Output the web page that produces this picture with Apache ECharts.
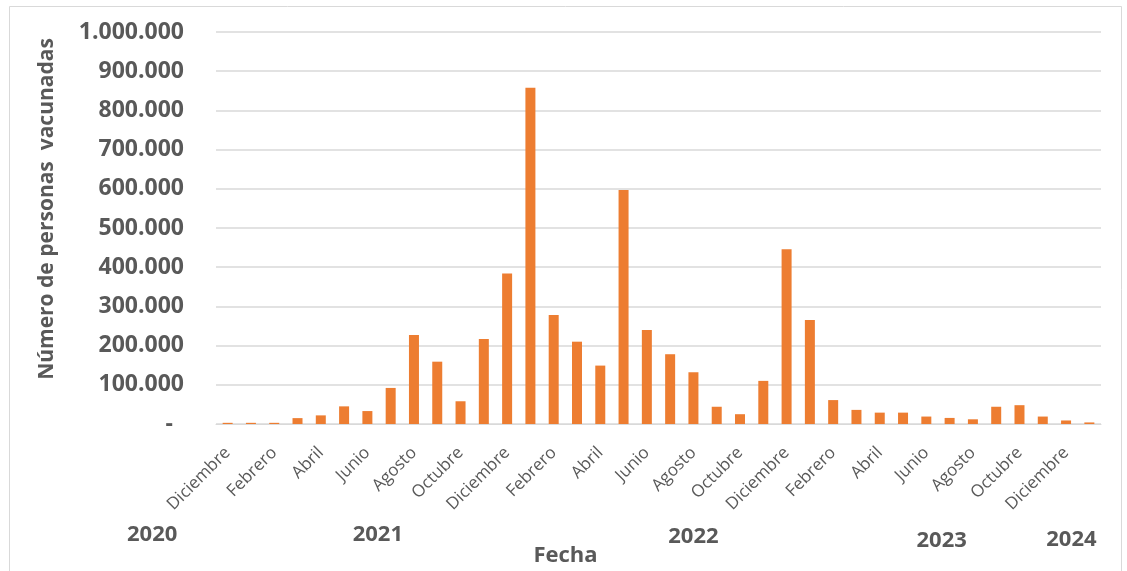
<!DOCTYPE html>
<html>
<head>
<meta charset="utf-8">
<title>Personas vacunadas por mes</title>
<script src="https://cdn.jsdelivr.net/npm/echarts@6/dist/echarts.min.js"></script>
<style>
  html, body { margin: 0; padding: 0; background: #ffffff; }
  #chart { width: 1127px; height: 571px; }
</style>
</head>
<body>
<div id="chart"></div>
<script>
// Meses de diciembre 2020 a enero 2024
const mesesAnio = ['Enero', 'Febrero', 'Marzo', 'Abril', 'Mayo', 'Junio', 'Julio',
  'Agosto', 'Septiembre', 'Octubre', 'Noviembre', 'Diciembre'];
const meses = ['Diciembre'].concat(mesesAnio, mesesAnio, mesesAnio, ['Enero']);

// Personas vacunadas en cada mes
const vacunados = [
  3000,                                                                         // dic 2020
  3000, 3000, 15000, 22000, 45000, 33000, 92000, 227000, 159000, 58000, 217000, 384000,   // 2021
  858000, 278000, 210000, 149000, 597000, 240000, 178000, 132000, 44000, 25000, 110000, 446000, // 2022
  265000, 61000, 36000, 29000, 29000, 19000, 15500, 12000, 44000, 48000, 19000, 9000,   // 2023
  4000                                                                          // ene 2024
];

// Etiquetas de año y su posición sobre el eje (en unidades de categoría)
const anios = ['2020', '2021', '2022', '2023', '2024'];
const aniosPos = [-3.24, 6.45, 20.0, 30.66, 36.23];
const aniosBaja = [0, 0, 2, 6, 5];

// Marcas del eje vertical
const yMax = 1000000;
const yPaso = 100000;

const gris = '#595959';
const fuente = '"Open Sans", "Liberation Sans", sans-serif';

function miles(v) {
  if (v === 0) return '{z|-}';
  return String(v).replace(/\B(?=(\d{3})+(?!\d))/g, '.');
}

const chart = echarts.init(document.getElementById('chart'), null, { renderer: 'canvas' });

chart.setOption({
  backgroundColor: '#ffffff',
  animation: false,
  textStyle: { fontFamily: fuente },
  grid: { left: 216, right: 26, top: 32, bottom: 147, containLabel: false, outerBoundsMode: 'none' },
  xAxis: {
    type: 'category',
    data: meses,
    boundaryGap: true,
    axisLine: { show: true, lineStyle: { color: '#D9D9D9', width: 1 } },
    axisTick: { show: false },
    axisLabel: {
      interval: 1,
      rotate: 45,
      margin: 26,
      color: gris,
      fontSize: 17,
      fontFamily: fuente
    },
    name: 'Fecha',
    nameLocation: 'middle',
    nameGap: 121,
    nameTextStyle: {
      color: gris, fontSize: 22, fontWeight: 'bold', fontFamily: fuente,
      padding: [0, 186, 0, 0]
    }
  },
  yAxis: {
    type: 'value',
    min: 0,
    max: yMax,
    interval: yPaso,
    axisLine: { show: false },
    axisTick: { show: false },
    splitLine: { show: true, lineStyle: { color: '#D9D9D9', width: 1.5 } },
    axisLabel: {
      margin: 32,
      color: gris,
      fontSize: 23,
      fontWeight: 'bold',
      fontFamily: fuente,
      formatter: miles,
      rich: { z: { color: gris, fontSize: 23, fontWeight: 'bold', padding: [0, 11, 0, 0] } }
    },
    name: 'Número de personas  vacunadas',
    nameLocation: 'middle',
    nameGap: 158,
    nameTextStyle: {
      color: gris, fontSize: 21, fontWeight: 'bold', fontFamily: fuente,
      padding: [0, 0, 0, 38]
    }
  },
  series: [{
    type: 'bar',
    data: vacunados,
    barWidth: 10,
    itemStyle: { color: '#ED7D31' }
  }]
});

// Marco exterior y etiquetas de año debajo de los meses
const x0 = chart.convertToPixel({ xAxisIndex: 0 }, 0);
const paso = chart.convertToPixel({ xAxisIndex: 0 }, 1) - x0;
const yBase = chart.convertToPixel({ yAxisIndex: 0 }, 0);
const graficos = [{
  id: 'marco',
  type: 'rect',
  silent: true,
  shape: { x: 9.5, y: 6.5, width: 1112, height: 600 },
  style: { fill: 'none', stroke: '#D9D9D9', lineWidth: 1 },
  z: -1
}].concat(anios.map(function (a, i) {
  return {
    id: 'anio' + i,
    type: 'text',
    silent: true,
    x: x0 + aniosPos[i] * paso,
    y: yBase + 111 + aniosBaja[i],
    style: {
      text: a,
      fill: gris,
      font: 'bold 22px ' + fuente,
      align: 'center',
      verticalAlign: 'middle'
    }
  };
}));
chart.setOption({ graphic: graficos });
</script>
</body>
</html>
